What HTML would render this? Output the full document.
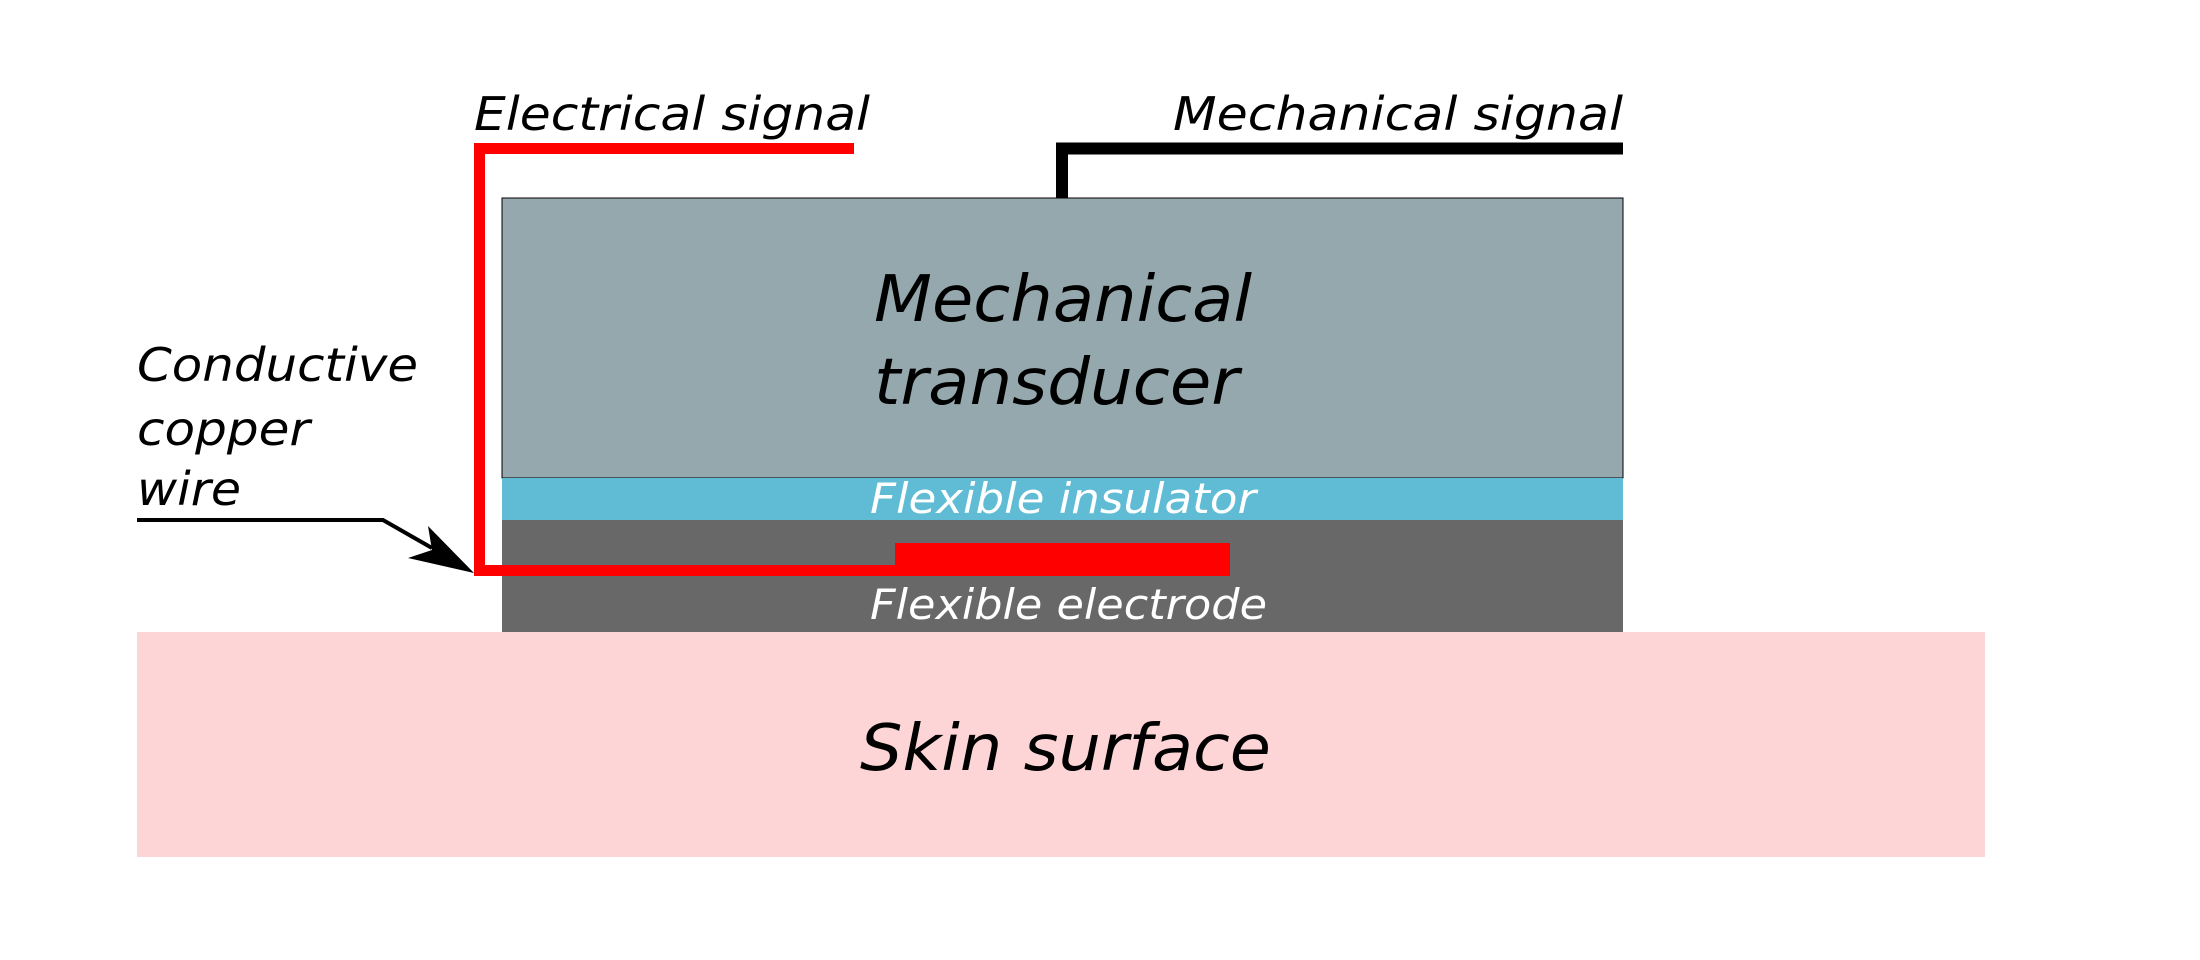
<!DOCTYPE html>
<html><head><meta charset="utf-8"><style>html,body{margin:0;padding:0;background:#fff}svg{display:block}</style></head>
<body>
<svg width="2200" height="960" viewBox="0 0 2200 960" xmlns="http://www.w3.org/2000/svg" font-family="'DejaVu Sans','Liberation Sans',sans-serif" font-style="italic">
<rect x="137" y="632" width="1848" height="225" fill="#fdd5d6"/>
<rect x="502" y="198" width="1121" height="280" fill="#95a8ae" stroke="#000" stroke-width="1"/>
<rect x="502" y="478" width="1121" height="42" fill="#60bcd4"/>
<rect x="502" y="520" width="1121" height="112" fill="#686868"/>
<path d="M854 148.5 H479.5 V570.5 H895" fill="none" stroke="#f00" stroke-width="11"/>
<rect x="895" y="543" width="335" height="33" fill="#f00"/>
<path d="M1062 198 V148.5 H1623" fill="none" stroke="#000" stroke-width="12"/>
<path d="M137 520 H383 L432 548" fill="none" stroke="#000" stroke-width="4"/>
<path d="M474 573 L408 558 L432 550 L428 526 Z" fill="#000"/>
<g font-size="46">
<text x="474" y="130" textLength="396" lengthAdjust="spacingAndGlyphs">Electrical signal</text>
<text x="1173" y="130" textLength="450" lengthAdjust="spacingAndGlyphs">Mechanical signal</text>
<text x="137" y="381" textLength="281" lengthAdjust="spacingAndGlyphs">Conductive</text>
<text x="137" y="445" textLength="173" lengthAdjust="spacingAndGlyphs">copper</text>
<text x="137" y="505" textLength="104" lengthAdjust="spacingAndGlyphs">wire</text>
</g>
<g font-size="64">
<text x="874" y="321" textLength="378" lengthAdjust="spacingAndGlyphs">Mechanical</text>
<text x="874" y="404" textLength="365" lengthAdjust="spacingAndGlyphs">transducer</text>
<text x="860" y="770" textLength="411" lengthAdjust="spacingAndGlyphs">Skin surface</text>
</g>
<g font-size="42" fill="#fff">
<text x="870" y="513" textLength="386" lengthAdjust="spacingAndGlyphs">Flexible insulator</text>
<text x="870" y="619" textLength="397" lengthAdjust="spacingAndGlyphs">Flexible electrode</text>
</g>
</svg>
</body></html>
